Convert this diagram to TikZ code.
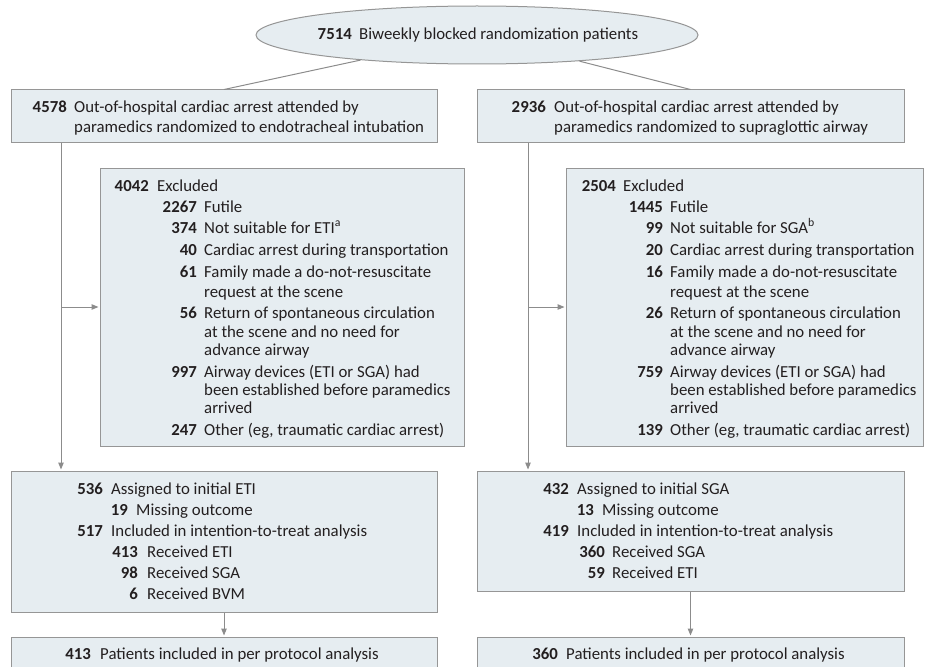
\documentclass[tikz,border=0pt]{standalone}
\usepackage{fontspec}
\setmainfont{Carlito}
\usetikzlibrary{shapes.geometric,arrows.meta}
\definecolor{boxfill}{RGB}{230,237,241}
\definecolor{boxline}{RGB}{150,150,150}
\definecolor{conn}{RGB}{140,140,140}
\definecolor{ink}{RGB}{35,31,32}
\newcommand\mainsize{\fontsize{16.8}{20}\selectfont}
\tikzset{
 box/.style={draw=boxline, fill=boxfill, line width=1pt, rectangle, inner sep=0pt},
 ellbox/.style={draw=boxline, fill=boxfill, line width=1pt, ellipse, inner sep=0pt, minimum width=442pt, minimum height=58pt},
 numlbl/.style={anchor=base east, inner sep=0pt, font=\mainsize\bfseries, text=ink},
 txtlbl/.style={anchor=base west, inner sep=0pt, font=\mainsize, text=ink},
 conline/.style={draw=conn, line width=1pt},
 conarrow/.style={conline, -{Triangle[length=7pt,width=5.5pt]}, shorten >=1pt},
}
\newcommand\boxrow[6]{\node[numlbl] (#1n) at (#2,#4) {#5}; \node[txtlbl] (#1t) at (#3,#4) {#6};}
\newcommand\boxcont[4]{\node[txtlbl] (#1) at (#2,#3) {#4};}
\begin{document}
\begin{tikzpicture}[x=1pt,y=-1pt]
\useasboundingbox (0,0) rectangle (925,666);
\clip (0,0) rectangle (925,666);
% boxes
\node[ellbox] (ell) at (477,35) {};
\node[box, minimum width=426pt, minimum height=52pt] (A) at (224,116) {};
\node[box, minimum width=427pt, minimum height=52pt] (B) at (690.5,116) {};
\node[box, minimum width=364pt, minimum height=278pt] (XL) at (282,307) {};
\node[box, minimum width=357.5pt, minimum height=278pt] (XR) at (744.75,307) {};
\node[box, minimum width=426pt, minimum height=141pt] (C) at (224,541.5) {};
\node[box, minimum width=427pt, minimum height=120pt] (D) at (690.5,531) {};
\node[box, minimum width=426pt, minimum height=63pt] (E) at (224,668.5) {};
\node[box, minimum width=427pt, minimum height=63pt] (F) at (690.5,668.5) {};
% connectors
\coordinate (jL) at (61,307);
\coordinate (jR) at (528,307);
\draw[conline] (ell) -- (A.north);
\draw[conline] (ell) -- (B.north);
\draw[conarrow] (jL |- A.south) -- (jL |- C.north);
\draw[conarrow] (jL) -- (XL.west);
\draw[conarrow] (jR |- B.south) -- (jR |- D.north);
\draw[conarrow] (jR) -- (XR.west);
\draw[conarrow] (C.south) -- (E.north);
\draw[conarrow] (D.south) -- (F.north);
% ellipse text
\boxrow{e}{352}{359}{40}{7514}{Biweekly blocked randomization patients}
% A
\boxrow{a1}{67}{74}{113}{4578}{Out-of-hospital cardiac arrest attended by}
\boxcont{a2}{74}{132}{paramedics randomized to endotracheal intubation}
% B
\boxrow{b1}{546}{554}{113}{2936}{Out-of-hospital cardiac arrest attended by}
\boxcont{b2}{554}{132}{paramedics randomized to supraglottic airway}
% XL
\boxrow{l0}{149}{157}{191}{4042}{Excluded}
\boxrow{l1}{197}{204}{212}{2267}{Futile}
\boxrow{l2}{197}{204}{233}{374}{Not suitable for ETI\textsuperscript{a}}
\boxrow{l3}{197}{204}{255}{40}{Cardiac arrest during transportation}
\boxrow{l4}{197}{204}{277}{61}{Family made a do-not-resuscitate}
\boxcont{l4b}{204}{297}{request at the scene}
\boxrow{l5}{197}{204}{318}{56}{Return of spontaneous circulation}
\boxcont{l5b}{204}{337}{at the scene and no need for}
\boxcont{l5c}{204}{355}{advance airway}
\boxrow{l6}{197}{204}{377}{997}{Airway devices (ETI or SGA) had}
\boxcont{l6b}{204}{395}{been established before paramedics}
\boxcont{l6c}{204}{413}{arrived}
\boxrow{l7}{197}{204}{435}{247}{Other (eg, traumatic cardiac arrest)}
% XR
\boxrow{r0}{616}{623}{191}{2504}{Excluded}
\boxrow{r1}{663}{670}{212}{1445}{Futile}
\boxrow{r2}{663}{670}{233}{99}{Not suitable for SGA\textsuperscript{b}}
\boxrow{r3}{663}{670}{255}{20}{Cardiac arrest during transportation}
\boxrow{r4}{663}{670}{277}{16}{Family made a do-not-resuscitate}
\boxcont{r4b}{670}{297}{request at the scene}
\boxrow{r5}{663}{670}{318}{26}{Return of spontaneous circulation}
\boxcont{r5b}{670}{337}{at the scene and no need for}
\boxcont{r5c}{670}{355}{advance airway}
\boxrow{r6}{663}{670}{377}{759}{Airway devices (ETI or SGA) had}
\boxcont{r6b}{670}{395}{been established before paramedics}
\boxcont{r6c}{670}{413}{arrived}
\boxrow{r7}{663}{670}{435}{139}{Other (eg, traumatic cardiac arrest)}
% C
\boxrow{c1}{103}{111}{494}{536}{Assigned to initial ETI}
\boxrow{c2}{128}{136}{515}{19}{Missing outcome}
\boxrow{c3}{103}{111}{536}{517}{Included in intention-to-treat analysis}
\boxrow{c4}{138}{147}{557}{413}{Received ETI}
\boxrow{c5}{138}{147}{578}{98}{Received SGA}
\boxrow{c6}{138}{147}{599}{6}{Received BVM}
% D
\boxrow{d1}{569}{577}{494}{432}{Assigned to initial SGA}
\boxrow{d2}{594}{602}{515}{13}{Missing outcome}
\boxrow{d3}{569}{577}{536}{419}{Included in intention-to-treat analysis}
\boxrow{d4}{605}{612}{557}{360}{Received SGA}
\boxrow{d5}{605}{612}{578}{59}{Received ETI}
% E, F
\boxrow{e1}{91}{100}{659}{413}{Patients included in per protocol analysis}
\boxrow{f1}{558}{566}{659}{360}{Patients included in per protocol analysis}
\end{tikzpicture}
\end{document}
